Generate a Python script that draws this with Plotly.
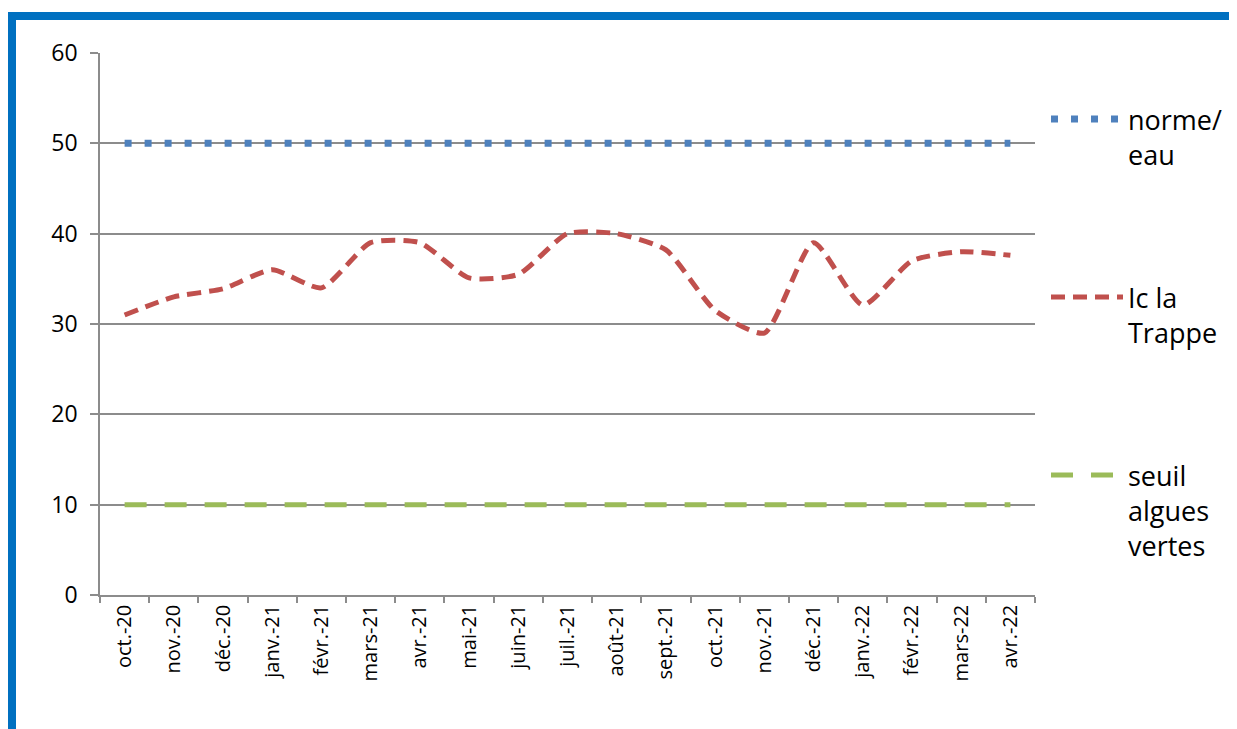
import plotly.graph_objects as go

months = ["oct.-20", "nov.-20", "déc.-20", "janv.-21", "févr.-21", "mars-21", "avr.-21",
          "mai-21", "juin-21", "juil.-21", "août-21", "sept.-21", "oct.-21", "nov.-21",
          "déc.-21", "janv.-22", "févr.-22", "mars-22", "avr.-22"]
norme_eau = [50, 50, 50, 50, 50, 50, 50, 50, 50, 50, 50, 50, 50, 50, 50, 50, 50, 50, 50]
ic_la_trappe = [31.0, 33.0, 33.9, 36.0, 34.0, 39.0, 39.0, 35.1, 35.5, 40.0, 40.0, 38.2,
                31.5, 29.0, 39.0, 32.1, 37.0, 38.0, 37.6]
seuil_algues = [10, 10, 10, 10, 10, 10, 10, 10, 10, 10, 10, 10, 10, 10, 10, 10, 10, 10, 10]

FONT = "Open Sans"
OFF = 8  # page body margin
W, H = 1237 - OFF, 729 - OFF
L, R, T, B = 100 - OFF, 202, 53 - OFF, 142 - OFF
PW, PH = W - L - R, H - T - B

def px(x):
    # x in page pixels -> paper coords
    return (x - OFF - L) / PW

def py(y):
    return (H - B - (y - OFF)) / PH

fig = go.Figure()
fig.add_trace(go.Scatter(x=months, y=norme_eau, mode="lines", name="norme/<br>eau",
                         line=dict(color="#4F81BD", width=7, dash="7px,13px"),
                         legend="legend"))
fig.add_trace(go.Scatter(x=months, y=ic_la_trappe, mode="lines", name="Ic la<br>Trappe",
                         line=dict(color="#C0504D", width=5, dash="14px,8px",
                                   shape="spline", smoothing=0.6),
                         legend="legend2"))
fig.add_trace(go.Scatter(x=months, y=seuil_algues, mode="lines", name="seuil<br>algues<br>vertes",
                         line=dict(color="#9BBB59", width=5, dash="22px,18px"),
                         legend="legend3"))

leg_common = dict(font=dict(family=FONT, size=27, color="#000000"), bgcolor="rgba(0,0,0,0)",
                  xanchor="left", yanchor="top", valign="top", itemclick=False,
                  itemwidth=72)

fig.update_layout(
    width=W, height=H,
    margin=dict(l=L, r=R, t=T, b=B, autoexpand=False),
    paper_bgcolor="white", plot_bgcolor="white",
    font=dict(family=FONT, color="#000000"),
    showlegend=True,
    legend=dict(x=px(1046), y=py(95), **leg_common),
    legend2=dict(x=px(1046), y=py(273), **leg_common),
    legend3=dict(x=px(1046), y=py(451), **leg_common),
    xaxis=dict(type="category", range=[-0.5, 18.5], showgrid=False,
               showline=True, linecolor="#8C8C8C", linewidth=1.5,
               ticks="outside", tickson="boundaries", ticklen=6, tickcolor="#8C8C8C",
               tickwidth=1.5, tickangle=-90, tickfont=dict(family=FONT, size=20, color="#000"),
               fixedrange=True),
    yaxis=dict(range=[0, 60], tickvals=[0, 10, 20, 30, 40, 50, 60], showgrid=True,
               gridcolor="#8C8C8C", gridwidth=1.5, zeroline=False,
               showline=True, linecolor="#8C8C8C", linewidth=1.5,
               ticks="outside", ticklen=8, tickcolor="#8C8C8C", tickwidth=1.5,
               ticklabelstandoff=8,
               tickfont=dict(family=FONT, size=23, color="#000"), fixedrange=True),
    shapes=[
        dict(type="line", xref="paper", yref="paper", x0=px(12), x1=px(1245), y0=py(16), y1=py(16),
             line=dict(color="#0070C0", width=8)),
        dict(type="line", xref="paper", yref="paper", x0=px(12), x1=px(12), y0=py(12), y1=py(740),
             line=dict(color="#0070C0", width=8)),
    ],
)

fig.write_html("out.html")
